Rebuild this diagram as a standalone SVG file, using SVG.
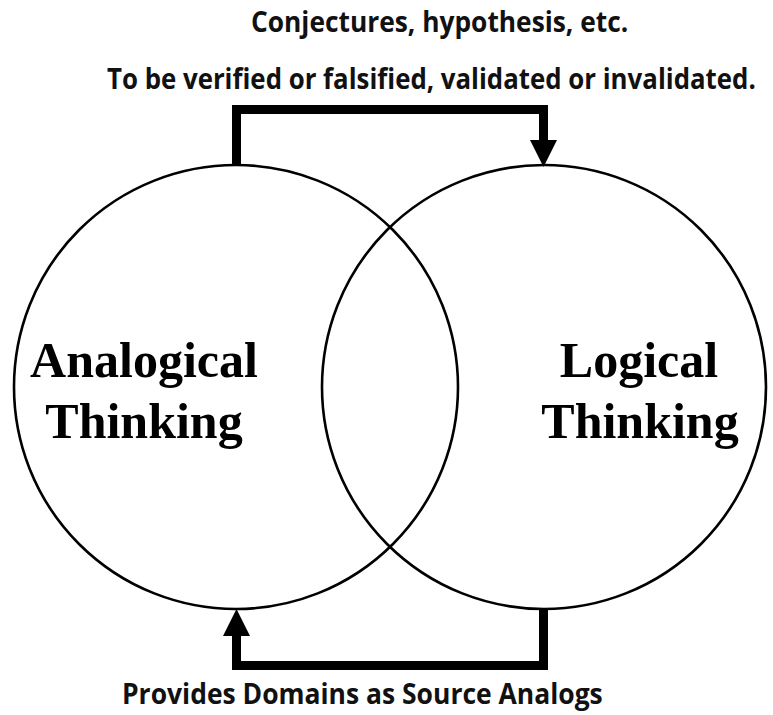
<svg xmlns="http://www.w3.org/2000/svg" width="773" height="715" viewBox="0 0 773 715">
  <style>
    .ring { fill: none; stroke: #000; stroke-width: 2.6; }
    .flow { fill: none; stroke: #000; stroke-width: 9; stroke-linejoin: miter; stroke-linecap: butt; }
    .note { font-family: "Open Sans", "Liberation Sans", sans-serif; font-weight: 700; font-size: 29px; fill: #111; }
    .title { font-family: "Liberation Serif", "Times New Roman", serif; font-weight: 700; font-size: 50px; fill: #000; text-anchor: middle; }
  </style>
  <defs>
    <marker id="head" markerUnits="userSpaceOnUse" markerWidth="28" markerHeight="28" refX="1" refY="13.5" orient="auto">
      <path d="M0,0 L27,13.5 L0,27 Z" fill="#000"/>
    </marker>
  </defs>

  <rect width="773" height="715" fill="#fff"/>

  <!-- annotations, set in a horizontally condensed face -->
  <text class="note" transform="translate(251,32) scale(0.75,1)" textLength="503" lengthAdjust="spacingAndGlyphs">Conjectures, hypothesis,  etc.</text>
  <text class="note" transform="translate(107,89) scale(0.75,1)" textLength="865" lengthAdjust="spacingAndGlyphs">To be verified or falsified, validated or invalidated.</text>
  <text class="note" transform="translate(122,704) scale(0.75,1)" textLength="641" lengthAdjust="spacingAndGlyphs">Provides Domains as Source Analogs</text>

  <!-- nodes -->
  <g id="analogical">
    <circle class="ring" cx="236" cy="387" r="222"/>
    <text class="title" x="144" y="377">Analogical</text>
    <text class="title" x="144" y="438">Thinking</text>
  </g>
  <g id="logical">
    <circle class="ring" cx="544" cy="387" r="222"/>
    <text class="title" x="639" y="377">Logical</text>
    <text class="title" x="640" y="438">Thinking</text>
  </g>

  <!-- connectors -->
  <g id="connectors">
    <path class="flow" d="M236.5,166 V109.5 H543.5 V141" marker-end="url(#head)"/>
    <path class="flow" d="M543.5,608 V665.5 H236.5 V635" marker-end="url(#head)"/>
  </g>
</svg>
